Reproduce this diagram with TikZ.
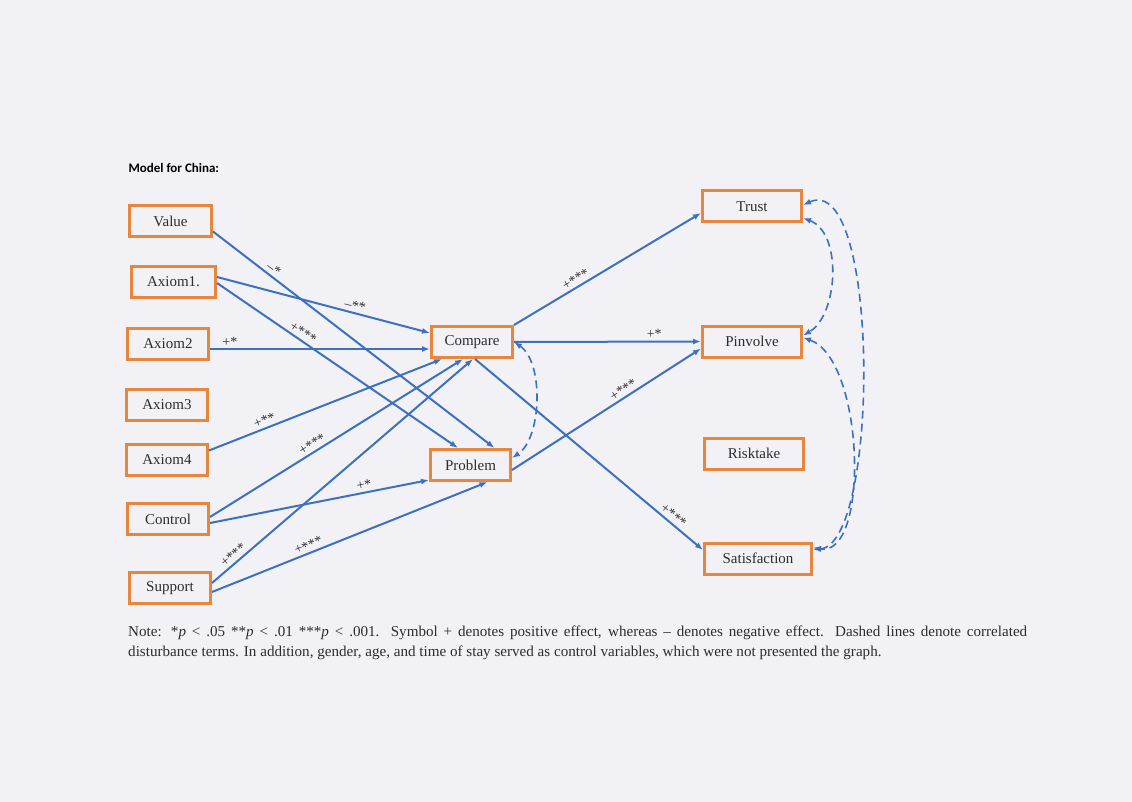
\documentclass[tikz,border=0pt]{standalone}
\usepackage{fontspec}
\setmainfont{Liberation Serif}
\newfontfamily\titlefont{Carlito}
\usetikzlibrary{arrows.meta,calc}
\definecolor{bg}{RGB}{242,242,246}
\definecolor{boxorange}{RGB}{231,134,60}
\definecolor{lineblue}{RGB}{62,112,192}
\definecolor{txt}{RGB}{45,45,45}
\begin{document}
\begin{tikzpicture}[x=1pt,y=-1pt,
  var/.style={draw=boxorange, line width=3pt, fill=bg, text=txt,
    font=\fontsize{15}{17}\selectfont, minimum height=31pt, inner sep=0pt},
  eff/.style={draw=lineblue, line width=2pt, -{Latex[length=8pt,width=6pt]}},
  cor/.style={draw=lineblue, line width=1.6pt, dash pattern=on 8pt off 5pt,
    {Latex[length=8pt,width=6pt]}-{Latex[length=8pt,width=6pt]}},
  lab/.style={font=\fontsize{14}{14}\selectfont, text=txt, sloped, above, inner sep=2pt}
]
\path[fill=bg] (0,0) rectangle (1132,802);

\node[anchor=west, text=black, font=\titlefont\bfseries\fontsize{13}{15}\selectfont] (title) at (125,168) {Model for China:};

% left column
\node[var, minimum width=82pt] (value)   at (170.5,221.5) {Value};
\node[var, minimum width=84pt] (axiom1)  at (173.5,282)   {Axiom1.};
\node[var, minimum width=81pt] (axiom2)  at (168,344)     {Axiom2};
\node[var, minimum width=81pt] (axiom3)  at (167,404.5)   {Axiom3};
\node[var, minimum width=81pt] (axiom4)  at (167,459.5)   {Axiom4};
\node[var, minimum width=81pt] (control) at (168,519)     {Control};
\node[var, minimum width=81pt] (support) at (170,588)     {Support};
% middle
\node[var, minimum width=81pt] (compare) at (472,342)     {Compare};
\node[var, minimum width=80pt] (problem) at (470.5,465)   {Problem};
% right
\node[var, minimum width=99pt]  (trust)    at (752,206.5) {Trust};
\node[var, minimum width=99pt]  (pinvolve) at (752,341.5) {Pinvolve};
\node[var, minimum width=99pt]  (risktake) at (754,453.5) {Risktake};
\node[var, minimum width=107pt] (satis)    at (758,558.5) {Satisfaction};

% effects
\draw[eff] ([yshift=-10pt]value.east) -- node[lab,pos=0.2]{–*} ([xshift=24pt]problem.north);
\draw[eff] ([yshift=5pt]axiom1.east) -- node[lab,pos=0.64]{–**} ([yshift=9pt]compare.west);
\draw[eff] ([yshift=-1pt]axiom1.east) -- node[lab,pos=0.34]{+***} ([xshift=-12.5pt]problem.north);
\draw[eff] ([yshift=-5pt]axiom2.east) -- node[lab,pos=0.09]{+*} ([yshift=-7pt]compare.west);
\draw[eff] ([yshift=9pt]axiom4.east) -- node[lab,pos=0.25]{+**} ([xshift=-30pt]compare.south);
\draw[eff] ([yshift=2pt]control.east) -- node[lab,pos=0.42]{+***} ([xshift=-9pt]compare.south);
\draw[eff] ([yshift=-4pt]control.east) -- node[lab,pos=0.71]{+*} ([yshift=2pt]problem.south west);
\draw[eff] ([yshift=5pt]support.east) -- node[lab,pos=0.1]{+***} ([xshift=1pt]compare.south);
\draw[eff] ([yshift=-4pt]support.east) -- node[lab,pos=0.36]{+***} ([xshift=17pt]problem.south);
\draw[eff] (compare.north east) -- node[lab,pos=0.35]{+***} ([yshift=-6.5pt]trust.west);
\draw[eff] (compare.east) -- node[lab,pos=0.75]{+*} (pinvolve.west);
\draw[eff] ([yshift=-5pt]problem.east) -- node[lab,pos=0.61]{+***} ([yshift=-7pt]pinvolve.west);
\draw[eff] ([xshift=3pt]compare.south) -- node[lab,pos=0.85]{+***} ([yshift=8.5pt]satis.west);

% correlations
\draw[cor] (compare.east) .. controls +(30,20) and +(30,-20) .. ([yshift=7pt]problem.east);
\draw[cor] ([yshift=-11.5pt]trust.east) .. controls +(40,15) and +(35,-20) .. ([yshift=6pt]pinvolve.east);
\draw[cor] ([yshift=1.5pt]trust.east) .. controls +(77,-35) and +(67,-5) .. ([yshift=9pt]satis.east);
\draw[cor] ([yshift=4pt]pinvolve.east) .. controls +(62,22) and +(57,11) .. ([yshift=11pt]satis.east);

% note
\node[anchor=north west, inner sep=0pt, align=left, text=txt,
      font=\fontsize{15.1}{19.5}\selectfont] (note) at (128,626)
  {\makebox[899pt][s]{Note: *\textit{p} < .05 **\textit{p} < .01 ***\textit{p} < .001. Symbol + denotes positive effect, whereas – denotes negative effect. Dashed lines denote correlated}\\
   disturbance terms. In addition, gender, age, and time of stay served as control variables, which were not presented the graph.};
\end{tikzpicture}
\end{document}
